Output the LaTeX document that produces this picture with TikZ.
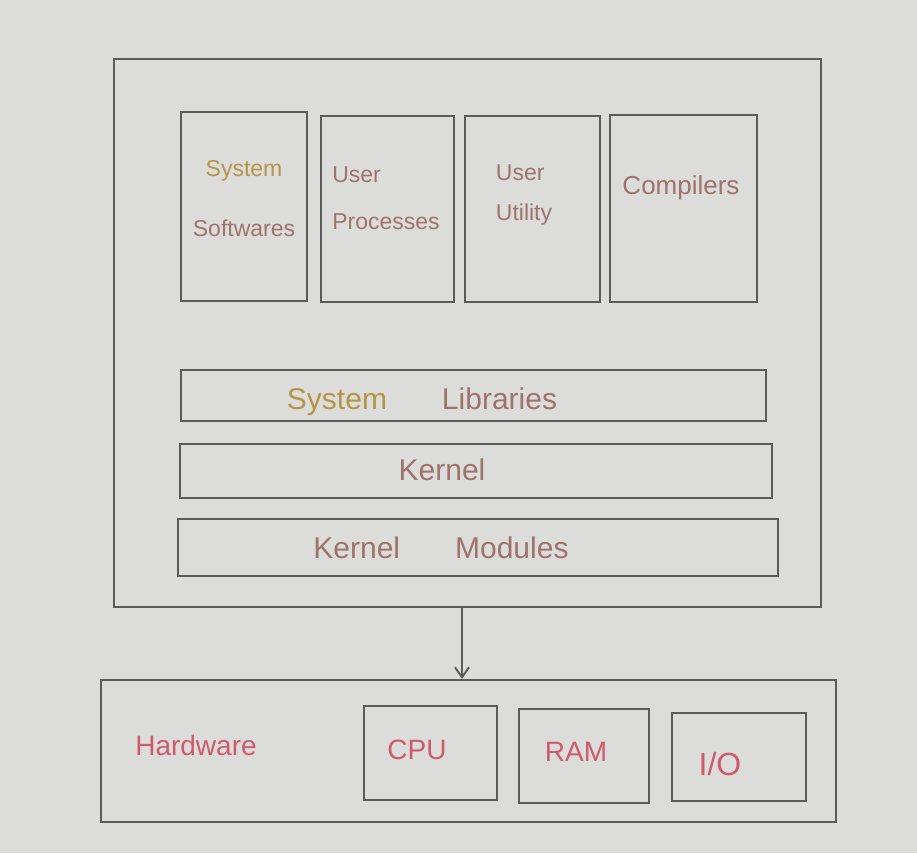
\documentclass[tikz,border=0pt]{standalone}
\usepackage{fontspec}
\setmainfont{Liberation Sans}
\usetikzlibrary{arrows.meta}
\definecolor{paper}{HTML}{DCDDDA}
\definecolor{pencil}{HTML}{5A5C5C}
\definecolor{brownpink}{HTML}{A0726C}
\definecolor{ochre}{HTML}{B59545}
\definecolor{redpink}{HTML}{CF5A6C}
\tikzset{
  sk/.style={draw=pencil, line width=2pt, rectangle, inner sep=0pt, anchor=north west},
  lbl/.style={text=brownpink, font=\fontsize{23}{26}\selectfont, inner sep=0pt},
  barlbl/.style={text=brownpink, font=\fontsize{30}{34}\selectfont, inner sep=0pt},
  hw/.style={text=redpink, font=\fontsize{28}{32}\selectfont, inner sep=0pt},
}
\begin{document}
\begin{tikzpicture}[x=1pt,y=-1pt]
\fill[paper] (0,0) rectangle (917,853);
\useasboundingbox (0,0) rectangle (917,853);
% outer OS box
\node[sk, minimum width=707pt, minimum height=548pt] (os) at (113,58) {};
% top application boxes
\node[sk, minimum width=126pt, minimum height=189pt] (b1) at (180,111) {};
\node[sk, minimum width=133pt, minimum height=186pt] (b2) at (320,115) {};
\node[sk, minimum width=135pt, minimum height=186pt] (b3) at (464,115) {};
\node[sk, minimum width=147pt, minimum height=187pt] (b4) at (609,114) {};
\node[lbl, align=center] (t1) at (244,199) {\textcolor{ochre}{System}\\[34pt]Softwares};
\node[lbl, align=left] (t2) at (386,198) {User\\[21pt]Processes};
\node[lbl, align=left] (t3) at (524,195) {User\\[14pt]Utility};
\node[lbl, font=\fontsize{26}{30}\selectfont] (t4) at (681,188) {Compilers};
% layer bars
\node[sk, minimum width=585pt, minimum height=51pt] (lib) at (180,369) {};
\node[sk, minimum width=592pt, minimum height=54pt] (ker) at (179,443) {};
\node[sk, minimum width=600pt, minimum height=57pt] (mod) at (177,518) {};
\node[barlbl] (tlib) at (422,402) {\textcolor{ochre}{System}\hspace{55pt}Libraries};
\node[barlbl] (tker) at (442,470) {Kernel};
\node[barlbl] (tmod) at (441,548) {Kernel\hspace{55pt}Modules};
% hardware
\node[sk, minimum width=735pt, minimum height=142pt] (hwbox) at (100,679) {};
\node[sk, minimum width=133pt, minimum height=94pt] (cpu) at (363,705) {};
\node[sk, minimum width=130pt, minimum height=94pt] (ram) at (518,708) {};
\node[sk, minimum width=134pt, minimum height=88pt] (io) at (671,712) {};
\node[hw] (thw) at (196,745) {Hardware};
\node[hw] (tcpu) at (417,750) {CPU};
\node[hw] (tram) at (576,752) {RAM};
\node[hw, font=\fontsize{32}{36}\selectfont] (tio) at (720,764) {I/O};
% arrow
\draw[pencil, line width=2pt, -{Straight Barb[length=10pt,width=14pt]}] (os.south -| 462,0) -- (hwbox.north -| 462,0);
\end{tikzpicture}
\end{document}
